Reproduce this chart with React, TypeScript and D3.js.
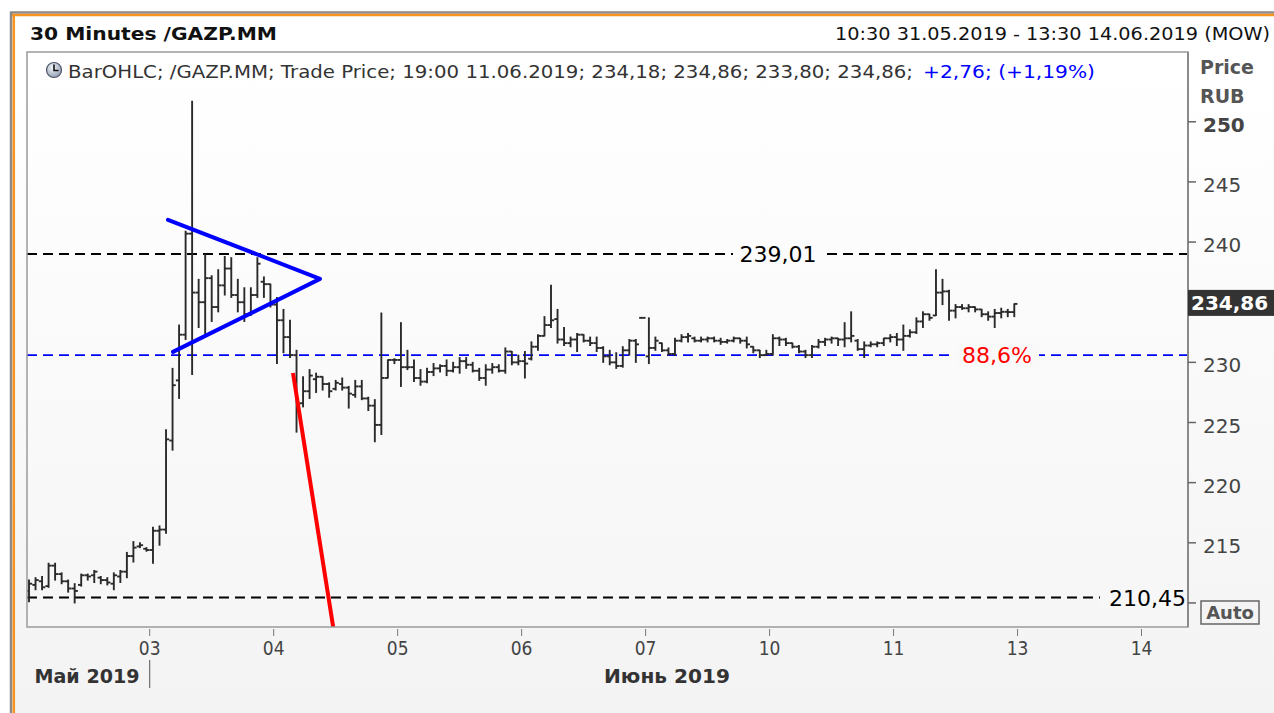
import React from "react";
import * as d3 from "d3";

// 30-minute OHLC bars, one array per trading day: [open, high, low, close]
const may31 = [
  [211.0, 211.9, 210.1, 211.6], [211.5, 212.1, 211.1, 211.9], [211.8, 212.2, 211.1, 211.3],
  [211.4, 213.3, 211.3, 213.1], [213.1, 213.3, 211.9, 212.4], [212.4, 212.5, 211.6, 211.8],
  [211.8, 211.9, 210.9, 211.2], [211.2, 211.6, 210.0, 211.0], [211.5, 212.4, 211.4, 212.3],
  [212.3, 212.4, 211.9, 212.2], [212.3, 212.7, 211.7, 212.6], [212.1, 212.2, 211.6, 211.9],
  [211.9, 212.1, 211.5, 211.7], [211.6, 212.5, 211.1, 212.3], [212.2, 212.7, 211.7, 212.6],
  [212.6, 214.2, 212.1, 213.9], [213.9, 215.1, 213.4, 214.6], [214.7, 215.0, 214.6, 214.8],
  [214.5, 214.6, 214.3, 214.4],
];
const jun03 = [
  [214.4, 216.3, 213.3, 216.0], [216.0, 216.4, 214.8, 216.1], [216.1, 224.4, 215.8, 223.6],
  [223.5, 229.5, 222.7, 228.1], [228.5, 233.1, 227.0, 232.3], [232.3, 240.9, 231.9, 240.7],
  [240.7, 251.7, 229.0, 235.8], [235.8, 236.9, 232.9, 235.0], [235.0, 239.0, 232.3, 237.0],
  [237.0, 237.2, 233.4, 234.6], [234.6, 237.7, 234.2, 236.4], [236.4, 238.8, 235.6, 237.8],
  [237.8, 238.7, 235.4, 235.6], [235.6, 236.9, 234.2, 235.0], [235.0, 236.2, 233.4, 234.0],
  [234.0, 236.2, 233.9, 235.6], [235.6, 238.7, 235.4, 238.2], [236.7, 237.1, 235.4, 236.5],
  [236.5, 236.5, 234.6, 234.8],
];
const jun04 = [
  [234.8, 235.4, 229.9, 233.5], [233.5, 234.4, 230.8, 232.1], [232.1, 233.5, 230.4, 230.6],
  [230.6, 231.0, 224.2, 226.6], [226.6, 228.8, 226.3, 227.6], [227.6, 229.4, 227.0, 228.9],
  [228.6, 229.1, 227.5, 228.8], [228.8, 228.8, 227.7, 228.2], [228.2, 228.3, 227.1, 227.6],
  [227.8, 228.5, 227.7, 228.3], [228.2, 228.7, 227.7, 227.9], [227.9, 228.0, 226.2, 227.4],
  [227.3, 228.5, 227.1, 228.0], [228.0, 228.5, 226.9, 227.0], [227.0, 227.1, 226.0, 226.4],
  [226.4, 226.9, 223.4, 224.8], [224.8, 234.1, 224.0, 228.7], [228.7, 230.2, 228.7, 230.2],
  [230.2, 230.3, 229.9, 230.2],
];
const jun05 = [
  [230.2, 233.3, 228.0, 229.6], [229.6, 231.0, 229.4, 229.6], [229.6, 230.2, 228.4, 228.7],
  [228.7, 229.4, 228.1, 228.4], [228.4, 229.5, 228.3, 229.2], [229.2, 229.9, 228.9, 229.5],
  [229.5, 229.8, 229.2, 229.7], [229.7, 230.2, 228.9, 229.3], [229.3, 230.0, 229.2, 229.6],
  [229.6, 230.4, 229.1, 230.1], [230.1, 230.4, 229.5, 229.8], [229.8, 230.0, 229.2, 229.3],
  [229.3, 229.5, 228.5, 228.7], [228.7, 229.8, 228.1, 229.4], [229.4, 229.9, 229.1, 229.6],
  [229.6, 229.8, 229.2, 229.3], [229.3, 231.2, 229.1, 230.9], [230.9, 230.9, 229.8, 230.0],
  [230.0, 230.6, 229.8, 230.1],
];
const jun06 = [
  [230.1, 230.9, 228.7, 229.9], [230.3, 231.7, 230.2, 231.3], [231.3, 232.3, 231.0, 232.2],
  [232.2, 233.8, 232.2, 233.1], [233.1, 236.4, 232.9, 233.5], [233.6, 234.4, 231.6, 231.9],
  [231.9, 232.9, 231.4, 231.6], [231.6, 232.1, 231.3, 231.9], [231.9, 232.4, 230.9, 232.3],
  [232.3, 232.3, 231.7, 231.8], [231.8, 232.1, 231.4, 231.6], [231.6, 232.1, 230.9, 231.2],
  [231.2, 231.3, 230.0, 230.5], [230.5, 231.0, 229.8, 230.0], [230.0, 230.8, 229.5, 229.7],
  [229.7, 231.3, 229.6, 231.0], [231.0, 231.9, 230.6, 231.8], [231.8, 231.9, 230.0, 231.5],
  [233.7, 233.7, 233.7, 233.7],
];
const jun07 = [
  [230.5, 233.7, 229.9, 231.2], [231.2, 232.1, 231.0, 231.8], [231.6, 231.6, 230.9, 231.0],
  [231.0, 231.2, 230.6, 230.7], [230.7, 232.0, 230.6, 231.8], [231.8, 232.3, 231.7, 232.1],
  [232.1, 232.4, 231.7, 232.2], [232.0, 232.1, 231.7, 231.8], [231.8, 232.1, 231.7, 231.9],
  [231.9, 232.1, 231.7, 232.0], [232.0, 232.1, 231.7, 231.8], [231.8, 232.0, 231.5, 231.7],
  [231.7, 231.9, 231.6, 231.8], [231.8, 232.1, 231.7, 232.0], [232.0, 232.0, 231.6, 231.8],
  [231.8, 232.1, 231.2, 231.5], [231.3, 231.3, 230.8, 231.0], [231.0, 231.0, 230.4, 230.6],
  [230.6, 231.0, 230.6, 230.7],
];
const jun10 = [
  [230.7, 232.3, 230.6, 232.0], [232.0, 232.1, 231.4, 231.9], [231.9, 232.0, 231.4, 231.6],
  [231.6, 231.6, 231.2, 231.3], [231.3, 231.4, 230.8, 230.9], [230.9, 231.0, 230.4, 230.6],
  [230.6, 231.4, 230.4, 231.3], [231.3, 231.9, 231.2, 231.7], [231.7, 232.0, 231.4, 231.9],
  [231.9, 232.1, 231.6, 232.0], [232.0, 232.0, 231.4, 231.9], [231.9, 233.3, 231.3, 232.0],
  [232.0, 234.2, 231.7, 232.2], [231.8, 231.9, 231.0, 231.1], [231.1, 231.7, 230.4, 231.4],
  [231.4, 231.7, 231.3, 231.5], [231.5, 231.7, 231.3, 231.6], [231.6, 232.0, 231.4, 232.0],
  [232.0, 232.3, 231.7, 232.1],
];
const jun11 = [
  [232.1, 232.4, 231.4, 231.9], [231.9, 233.1, 231.0, 232.2], [232.2, 232.7, 232.1, 232.5],
  [232.5, 233.7, 232.4, 233.4], [233.4, 234.2, 232.9, 234.0], [234.0, 234.0, 233.5, 233.7],
  [233.9, 237.7, 233.9, 235.8], [235.8, 236.9, 234.8, 235.9], [235.9, 236.0, 233.5, 234.3],
  [234.3, 234.8, 233.7, 234.6], [234.6, 234.8, 234.4, 234.5], [234.5, 234.8, 234.2, 234.6],
  [234.6, 234.6, 234.2, 234.4], [234.4, 234.4, 233.8, 234.0], [234.0, 234.2, 233.5, 233.8],
  [233.8, 234.4, 232.9, 234.1], [234.1, 234.5, 233.7, 234.2], [234.2, 234.4, 233.8, 234.18],
  [234.18, 234.86, 233.8, 234.86],
];

const barsPerDay = 19;
const dayTickLabels = ["03", "04", "05", "06", "07", "10", "11", "13", "14"];
const yTickValues = [210, 215, 220, 225, 230, 235, 240, 245, 250];
// 235 sits under the last-price box and 210 under the "Auto" button
const yHiddenLabels = [210, 235];

// drawn levels and trend lines (slot index, price)
const resistance = 239.01;
const support = 210.45;
const fibLevel = 230.6;
const triangle = [[21.8, 241.85], [45.1, 236.94], [22.57, 230.87]];
const redLine = [[40.96, 229.12], [47.7, 206.0]];
const lastPrice = 234.86;

const bars = [may31, jun03, jun04, jun05, jun06, jun07, jun10, jun11].flat();

const PL = 27, PR = 1188, PT = 52, PB = 627;
const FONT = "Tahoma, 'DejaVu Sans', sans-serif";
const COND = "'DejaVu Sans Condensed', 'Liberation Sans Narrow', 'DejaVu Sans', sans-serif";

export default function App() {
  const x = d3.scaleLinear().domain([0, 178]).range([25.74, 25.74 + 178 * 6.525]);
  const y = d3.scaleLinear().domain([208, 255.8]).range([PB, PT]);
  const line = d3.line<number[]>().x((d) => x(d[0])).y((d) => y(d[1]));
  const tick = 3.2;

  return (
    <svg width={1274} height={713} style={{ position: "absolute", left: 0, top: 0, display: "block" }}
      fontFamily={FONT}>
      <defs>
        <linearGradient id="bg" x1="0" y1="0" x2="0" y2="1">
          <stop offset="0" stopColor="#ffffff" />
          <stop offset="0.1" stopColor="#ffffff" />
          <stop offset="1" stopColor="#f3f3f3" />
        </linearGradient>
        <linearGradient id="plotbg" x1="0" y1="0" x2="0" y2="1">
          <stop offset="0" stopColor="#ffffff" />
          <stop offset="1" stopColor="#f6f6f6" />
        </linearGradient>
        <radialGradient id="clock" cx="0.4" cy="0.35" r="0.7">
          <stop offset="0" stopColor="#f4f6fa" />
          <stop offset="1" stopColor="#8e9ab0" />
        </radialGradient>
        <clipPath id="plotclip">
          <rect x={PL} y={PT} width={PR - PL} height={PB - PT} />
        </clipPath>
      </defs>

      {/* frame */}
      <rect x={0} y={0} width={1274} height={713} fill="#ffffff" />
      <rect x={15} y={16} width={1259} height={697} fill="url(#bg)" />
      <line x1={10} x2={1274} y1={12.5} y2={12.5} stroke="#8a8a8a" strokeWidth={2.5} />
      <line x1={12} x2={1274} y1={15} y2={15} stroke="#f7941d" strokeWidth={2.5} />
      <line x1={11} x2={11} y1={12} y2={713} stroke="#8a8a8a" strokeWidth={2.5} />
      <line x1={13.8} x2={13.8} y1={14} y2={713} stroke="#f7941d" strokeWidth={2.5} />

      {/* header */}
      <text x={30} y={40} fontSize={18} fontWeight="bold" fill="#111" textLength={247}
        lengthAdjust="spacingAndGlyphs">30 Minutes /GAZP.MM</text>
      <text x={1270} y={40} fontSize={18} fill="#111" textAnchor="end" textLength={435}
        lengthAdjust="spacingAndGlyphs">10:30 31.05.2019 - 13:30 14.06.2019 (MOW)</text>

      {/* plot background */}
      <rect x={PL} y={PT} width={PR - PL} height={PB - PT} fill="url(#plotbg)" />

      <g clipPath="url(#plotclip)">
        {/* level lines */}
        <line x1={PL} x2={PR} y1={y(resistance)} y2={y(resistance)} stroke="#000" strokeWidth={2}
          strokeDasharray="10 6" />
        <line x1={PL} x2={PR} y1={y(support)} y2={y(support)} stroke="#000" strokeWidth={2}
          strokeDasharray="10 6" />
        <line x1={PL} x2={PR} y1={y(fibLevel)} y2={y(fibLevel)} stroke="#0000ff" strokeWidth={1.6}
          strokeDasharray="10 6" />

        {/* OHLC bars */}
        <g stroke="#2a2a2a" strokeWidth={1.9}>
          {bars.map((b, i) => {
            const cx = x(i + 0.5);
            const [o, h, l, c] = b;
            return (
              <g key={i}>
                <line x1={cx} x2={cx} y1={y(h) - 0.5} y2={y(l) + 0.5} />
                <line x1={cx - tick} x2={cx} y1={y(o)} y2={y(o)} />
                <line x1={cx} x2={cx + tick} y1={y(c)} y2={y(c)} />
              </g>
            );
          })}
        </g>

        {/* drawn trend lines */}
        <path d={line(triangle) ?? ""} fill="none" stroke="#0000ff" strokeWidth={4}
          strokeLinejoin="round" strokeLinecap="round" />
        <path d={line(redLine) ?? ""} fill="none" stroke="#ff0000" strokeWidth={4} />

        {/* level labels */}
        <rect x={733} y={y(resistance) - 13} width={92} height={26} fill="#fcfcfc" />
        <text x={778} y={y(resistance) + 8} fontSize={22} textAnchor="middle" fill="#000">239,01</text>
        <rect x={1100} y={y(support) - 13} width={88} height={26} fill="#f7f7f7" />
        <text x={1186} y={y(support) + 8} fontSize={22} textAnchor="end" fill="#000">210,45</text>
        <rect x={955} y={y(fibLevel) - 12} width={84} height={24} fill="#f9f9f9" />
        <text x={997} y={y(fibLevel) + 8} fontSize={22} textAnchor="middle" fill="#ff0000">88,6%</text>
      </g>

      {/* legend box */}
      <rect x={PL} y={PT} width={PR - PL} height={PB - PT} fill="none" stroke="#9a9a9a" strokeWidth={1.5} />
      <circle cx={54} cy={70} r={7.5} fill="url(#clock)" stroke="#4d5668" strokeWidth={1.2} />
      <path d="M54,64.5 V70.5 H58.5" fill="none" stroke="#111" strokeWidth={1.6} />
      <text y={78} fontSize={18}>
        <tspan x={68} fill="#333" textLength={845} lengthAdjust="spacingAndGlyphs">
          BarOHLC; /GAZP.MM; Trade Price; 19:00 11.06.2019; 234,18; 234,86; 233,80; 234,86;
        </tspan>
        <tspan x={923} fill="#0000ff" textLength={172} lengthAdjust="spacingAndGlyphs">+2,76; (+1,19%)</tspan>
      </text>

      {/* right axis */}
      <line x1={PR} x2={PR} y1={PT} y2={PB} stroke="#8a8a8a" strokeWidth={2} />
      <text x={1200} y={74} fontSize={19} fontWeight="bold" fill="#555">Price</text>
      <text x={1200} y={103} fontSize={19} fontWeight="bold" fill="#555">RUB</text>
      {yTickValues.map((v) => (
        <g key={v}>
          <line x1={PR} x2={PR + 8} y1={y(v)} y2={y(v)} stroke="#666" strokeWidth={1.5} />
          {!yHiddenLabels.includes(v) && (
            <text x={1203} y={y(v) + 10} fontSize={20} fill="#444" fontWeight={v === 250 ? "bold" : "normal"}>
              {v}
            </text>
          )}
        </g>
      ))}
      <rect x={1188} y={y(lastPrice) - 14} width={86} height={26} fill="#333" />
      <text x={1191} y={y(lastPrice) + 6} fontSize={20} fontWeight="bold" fill="#fff">
        {d3.format(".2f")(lastPrice).replace(".", ",")}
      </text>
      <rect x={1201} y={601} width={58} height={23} fill="#f4f4f4" stroke="#666" strokeWidth={1.5} />
      <text x={1230} y={619} fontSize={18} fontWeight="bold" fill="#555" textAnchor="middle">Auto</text>

      {/* bottom axis */}
      {dayTickLabels.map((lab, k) => {
        const tx = x((k + 1) * barsPerDay);
        return (
          <g key={lab}>
            <line x1={tx} x2={tx} y1={629} y2={636} stroke="#777" strokeWidth={1} />
            <text x={tx} y={655} fontSize={19} fill="#444" textAnchor="middle" fontFamily={COND}>{lab}</text>
          </g>
        );
      })}
      <text x={87} y={683} fontSize={19} fontWeight="bold" fill="#333" textAnchor="middle" fontFamily={COND}
        textLength={105} lengthAdjust="spacingAndGlyphs">Май 2019</text>
      <line x1={x(barsPerDay)} x2={x(barsPerDay)} y1={660} y2={688} stroke="#555" strokeWidth={1} />
      <text x={667} y={683} fontSize={19} fontWeight="bold" fill="#333" textAnchor="middle" fontFamily={COND}
        textLength={126} lengthAdjust="spacingAndGlyphs">Июнь 2019</text>
    </svg>
  );
}
